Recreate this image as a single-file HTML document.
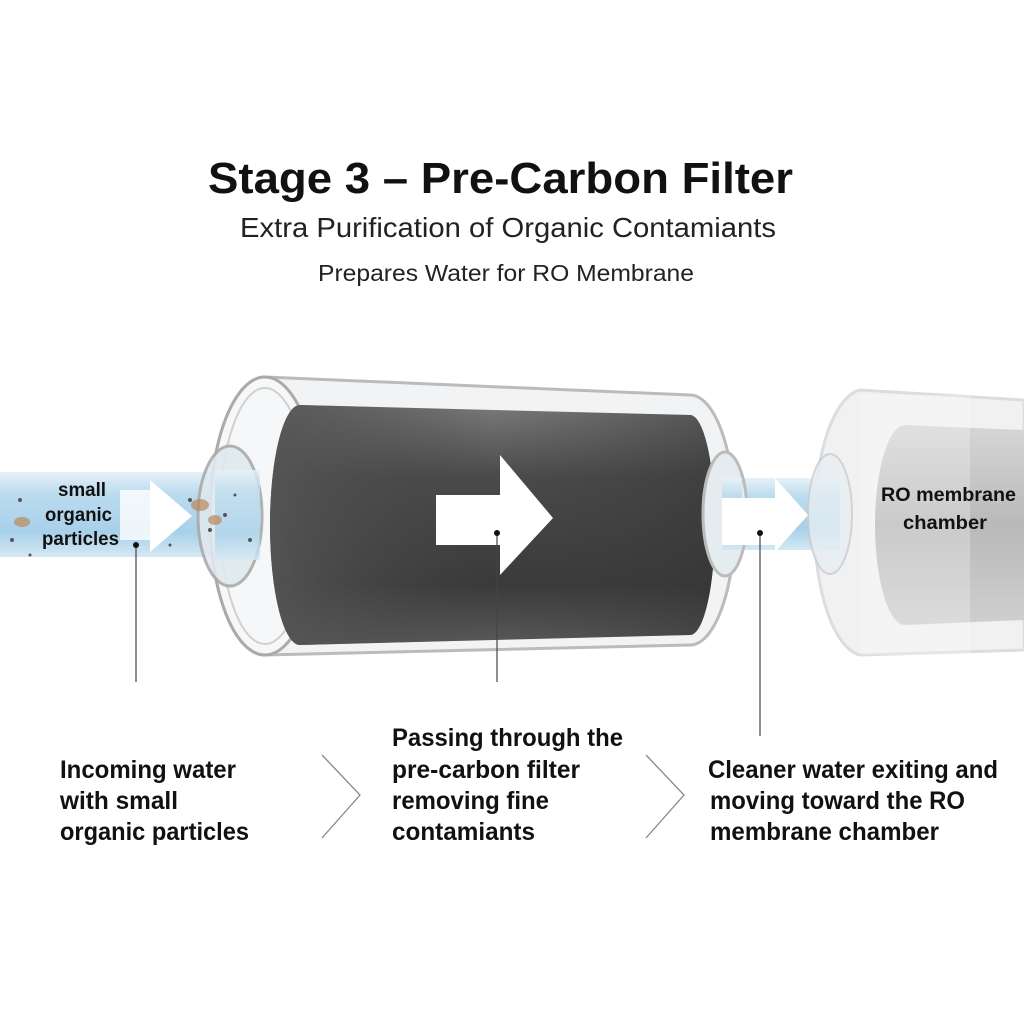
<!DOCTYPE html>
<html><head><meta charset="utf-8"><style>
body{margin:0;background:#fff;}
svg{display:block}
text{font-family:"Liberation Sans Narrow","Liberation Sans",sans-serif;}
</style></head><body>
<svg width="1024" height="1024" viewBox="0 0 1024 1024">
<defs>
<linearGradient id="pipe" x1="0" y1="0" x2="0" y2="1">
<stop offset="0" stop-color="#e6f1f8"/><stop offset="0.25" stop-color="#bcdcef"/><stop offset="0.7" stop-color="#a7d0ea"/><stop offset="1" stop-color="#d5e8f3"/></linearGradient>
<linearGradient id="core" x1="0" y1="0" x2="0" y2="1">
<stop offset="0" stop-color="#7a7a7a"/><stop offset="0.3" stop-color="#4a4a4a"/><stop offset="0.75" stop-color="#3a3a3a"/><stop offset="1" stop-color="#5a5a5a"/></linearGradient>
<linearGradient id="core2" x1="0" y1="0" x2="1" y2="0">
<stop offset="0" stop-color="#555" stop-opacity="0.9"/><stop offset="0.5" stop-color="#444" stop-opacity="0"/><stop offset="1" stop-color="#333" stop-opacity="0.5"/></linearGradient>
<linearGradient id="ghost" x1="0" y1="0" x2="0" y2="1">
<stop offset="0" stop-color="#d6d6d6"/><stop offset="0.5" stop-color="#b9b9b9"/><stop offset="1" stop-color="#cfcfcf"/></linearGradient>
</defs>
<rect width="1024" height="1024" fill="#fff"/>
<text x="208" y="193" textLength="585" lengthAdjust="spacingAndGlyphs" font-size="44" font-weight="bold" fill="#111">Stage 3 – Pre-Carbon Filter</text>
<text x="240" y="237" textLength="536" lengthAdjust="spacingAndGlyphs" font-size="28" fill="#222">Extra Purification of Organic Contamiants</text>
<text x="318" y="281" textLength="376" lengthAdjust="spacingAndGlyphs" font-size="23" fill="#222">Prepares Water for RO Membrane</text>

<path d="M860 390 L1024 400 L1024 650 L860 655 A50 133 0 0 1 860 390Z" fill="#f1f1f1" stroke="#ddd" stroke-width="3"/>
<path d="M905 425 L1024 430 L1024 620 L905 625 A30 100 0 0 1 905 425Z" fill="url(#ghost)"/>
<rect x="860" y="395" width="110" height="260" fill="#fff" opacity="0.25"/>

<rect x="0" y="472" width="240" height="85" fill="url(#pipe)"/>
<rect x="700" y="478" width="140" height="72" fill="url(#pipe)"/>
<ellipse cx="830" cy="514" rx="22" ry="60" fill="#e6eef3" stroke="#ccc" stroke-width="2" opacity="0.8"/>

<path d="M265 377 L690 395 A45 125 0 0 1 690 645 L265 655 A55 139 0 0 1 265 377Z" fill="#f2f3f4" stroke="#bbb" stroke-width="3"/>
<ellipse cx="265" cy="516" rx="55" ry="139" fill="#f6f7f8" stroke="#aaa" stroke-width="3"/>
<ellipse cx="265" cy="516" rx="45" ry="128" fill="none" stroke="#d0d0d0" stroke-width="2"/>
<path d="M300 405 L690 415 A25 110 0 0 1 690 635 L300 645 A30 120 0 0 1 300 405Z" fill="url(#core)"/>
<path d="M300 405 L690 415 A25 110 0 0 1 690 635 L300 645 A30 120 0 0 1 300 405Z" fill="url(#core2)"/>
<ellipse cx="230" cy="516" rx="32" ry="70" fill="#dfe9ef" stroke="#aaa" stroke-width="3" opacity="0.9"/>
<rect x="215" y="470" width="45" height="90" fill="url(#pipe)" opacity="0.8"/>
<ellipse cx="725" cy="514" rx="22" ry="62" fill="#e4ecf0" stroke="#bbb" stroke-width="3"/>
<rect x="722" y="478" width="20" height="72" fill="url(#pipe)"/>

<g fill="#555">
<circle cx="20" cy="500" r="2"/><circle cx="12" cy="540" r="2"/><circle cx="30" cy="555" r="1.5"/><circle cx="190" cy="500" r="2"/><circle cx="210" cy="530" r="2"/><circle cx="235" cy="495" r="1.5"/><circle cx="250" cy="540" r="2"/><circle cx="170" cy="545" r="1.5"/><circle cx="225" cy="515" r="2"/>
</g>
<g fill="#b9895a" opacity="0.7"><ellipse cx="22" cy="522" rx="8" ry="5"/><ellipse cx="200" cy="505" rx="9" ry="6"/><ellipse cx="215" cy="520" rx="7" ry="5"/></g>

<polygon points="150,480 192,516 150,552" fill="#fff"/>
<polygon points="120,490 150,490 150,480 180,516 150,552 150,540 120,540" fill="#fff" opacity="0.8"/>
<polygon points="436,495 500,495 500,455 553,518 500,575 500,545 436,545" fill="#fff"/>
<polygon points="722,498 775,498 775,478 808,515 775,552 775,545 722,545" fill="#fff"/>

<g font-size="19" fill="#111" font-weight="bold">
<text x="58" y="496" textLength="48" lengthAdjust="spacingAndGlyphs">small</text>
<text x="45" y="521" textLength="67" lengthAdjust="spacingAndGlyphs">organic</text>
<text x="42" y="545" textLength="77" lengthAdjust="spacingAndGlyphs">particles</text>
<text x="881" y="501" textLength="135" lengthAdjust="spacingAndGlyphs">RO membrane</text>
<text x="903" y="529" textLength="84" lengthAdjust="spacingAndGlyphs">chamber</text>
</g>

<g stroke="#444" stroke-width="1.2">
<line x1="136" y1="545" x2="136" y2="682"/>
<line x1="497" y1="533" x2="497" y2="682"/>
<line x1="760" y1="533" x2="760" y2="736"/>
</g>
<g fill="#111"><circle cx="136" cy="545" r="3"/><circle cx="497" cy="533" r="3"/><circle cx="760" cy="533" r="3"/></g>

<g font-size="25" fill="#111" font-weight="bold">
<text x="60" y="778" textLength="176" lengthAdjust="spacingAndGlyphs">Incoming water</text>
<text x="60" y="809" textLength="118" lengthAdjust="spacingAndGlyphs">with small</text>
<text x="60" y="840" textLength="189" lengthAdjust="spacingAndGlyphs">organic particles</text>
<text x="392" y="746" textLength="231" lengthAdjust="spacingAndGlyphs">Passing through the</text>
<text x="392" y="778" textLength="188" lengthAdjust="spacingAndGlyphs">pre-carbon filter</text>
<text x="392" y="809" textLength="157" lengthAdjust="spacingAndGlyphs">removing fine</text>
<text x="392" y="840" textLength="143" lengthAdjust="spacingAndGlyphs">contamiants</text>
<text x="708" y="778" textLength="290" lengthAdjust="spacingAndGlyphs">Cleaner water exiting and</text>
<text x="710" y="809" textLength="255" lengthAdjust="spacingAndGlyphs">moving toward the RO</text>
<text x="710" y="840" textLength="229" lengthAdjust="spacingAndGlyphs">membrane chamber</text>
</g>
<g fill="none" stroke="#888" stroke-width="1.3">
<polyline points="322,755 360,795 322,838"/>
<polyline points="646,755 684,795 646,838"/>
</g>
</svg>
</body></html>
